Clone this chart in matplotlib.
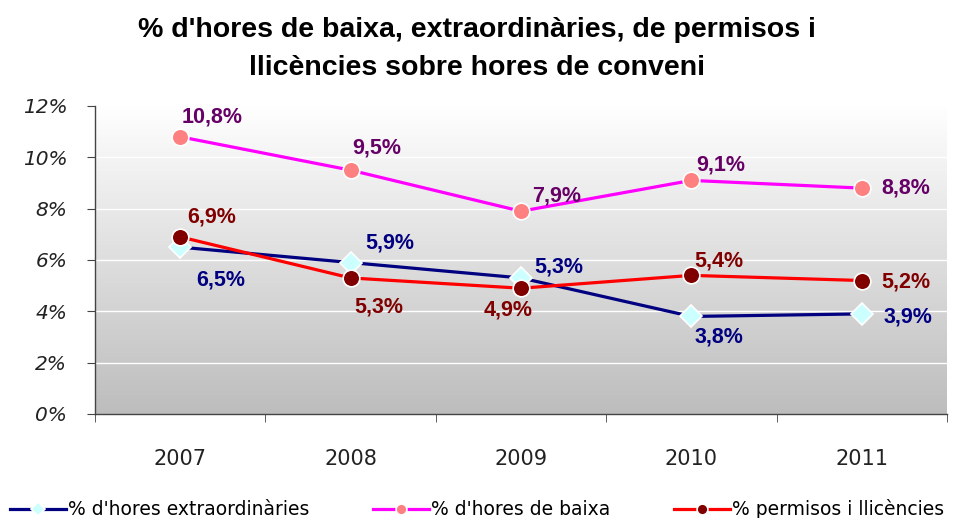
import numpy as np
import matplotlib.pyplot as plt
from matplotlib.colors import LinearSegmentedColormap

years = ["2007", "2008", "2009", "2010", "2011"]
extra = [6.5, 5.9, 5.3, 3.8, 3.9]
baixa = [10.8, 9.5, 7.9, 9.1, 8.8]
permisos = [6.9, 5.3, 4.9, 5.4, 5.2]
yticks = [0, 2, 4, 6, 8, 10, 12]

# label offsets in points (dx, dy) for each point
off_extra = [(29, -24), (28, 14), (27, 8), (20, -15), (33, -2)]
off_baixa = [(23, 14), (19, 16), (26, 11), (21, 11), (32, 0)]
off_permisos = [(23, 14), (20, -21), (-9, -16), (20, 10), (32, -1)]

fig = plt.figure(figsize=(9.54, 5.18), dpi=100)
ax = fig.add_axes([0.0996, 0.2008, 0.893, 0.5946])

x = np.arange(len(years))
ax.set_xlim(-0.5, len(years) - 0.5)
ax.set_ylim(0, 12)

# gradient background
cmap = LinearSegmentedColormap.from_list("bg", ["#bdbdbd", "#ffffff"])
grad = np.linspace(0, 1, 256).reshape(-1, 1)
ax.imshow(grad, extent=[-0.5, len(years) - 0.5, 0, 12], origin="lower",
          aspect="auto", cmap=cmap, zorder=0)

for yv in yticks[1:-1]:
    ax.axhline(yv, color="white", lw=1, zorder=1)

series = [
    (extra, "% d'hores extraordinàries", "#000080", "D", "#ccffff", 11, "#000080", off_extra),
    (baixa, "% d'hores de baixa", "#ff00ff", "o", "#ff8080", 12, "#660066", off_baixa),
    (permisos, "% permisos i llicències", "#ff0000", "o", "#800000", 12, "#800000", off_permisos),
]

handles = []
for vals, name, lc, mk, mfc, ms, tc, offs in series:
    h, = ax.plot(x, vals, color=lc, lw=2.3, marker=mk, markersize=ms,
                 markerfacecolor=mfc, markeredgecolor="white", markeredgewidth=1.2,
                 label=name, zorder=3)
    handles.append(h)
    for xi, v, (dx, dy) in zip(x, vals, offs):
        ax.annotate(f"{v:.1f}%".replace(".", ","), (xi, v), xytext=(dx, dy),
                    textcoords="offset points", ha="center", va="center",
                    color=tc, fontsize=15.5, fontweight="bold",
                    family="Liberation Sans", zorder=4)

ax.set_yticks(yticks)
ax.set_yticklabels([f"{v}%" for v in yticks], fontstyle="italic", fontsize=14.5,
                   color="#222222")
ax.set_xticks(x)
ax.set_xticklabels(years, fontsize=15, color="#222222")
ax.set_xticks(np.arange(-0.5, len(years)), minor=True)
ax.tick_params(axis="x", which="major", length=0, pad=25)
ax.tick_params(axis="x", which="minor", length=6, color="#444444")
ax.tick_params(axis="y", length=6, color="#444444", pad=14)

for s in ["top", "right"]:
    ax.spines[s].set_visible(False)
for s in ["left", "bottom"]:
    ax.spines[s].set_color("#444444")
    ax.spines[s].set_linewidth(1)

fig.suptitle("% d'hores de baixa, extraordinàries, de permisos i\nllicències sobre hores de conveni",
             x=0.5, y=0.968, fontsize=20.5, fontweight="bold", family="Liberation Sans",
             linespacing=1.62)

fig.legend(handles=handles, loc="lower center", bbox_to_anchor=(0.5, -0.035),
           ncol=3, frameon=False, fontsize=13.5, handlelength=3, handletextpad=0.1,
           columnspacing=3.4, markerscale=0.65)

fig.savefig("out.png", dpi=100)
